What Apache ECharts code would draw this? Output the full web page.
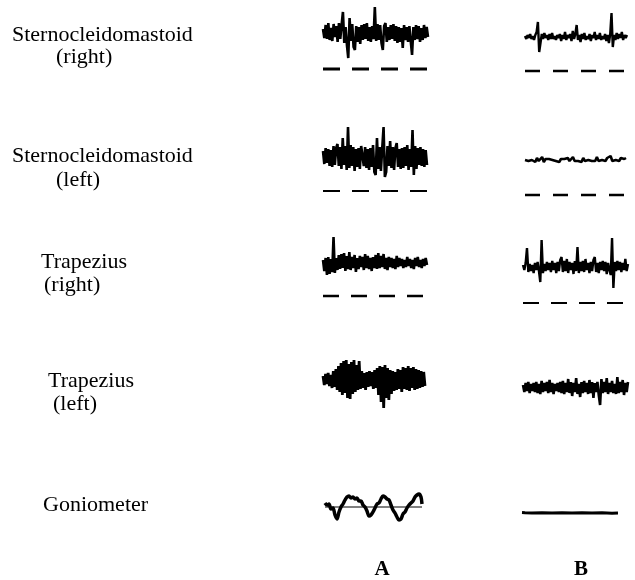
<!DOCTYPE html>
<html>
<head>
<meta charset="utf-8">
<script src="https://cdn.jsdelivr.net/npm/echarts@6/dist/echarts.min.js"></script>
<style>
  html, body { margin: 0; padding: 0; background: #fff; }
  #chart { width: 635px; height: 580px; }
</style>
</head>
<body>
<div id="chart"></div>
<script>
// Surface EMG samples (arbitrary amplitude units, one value per sample step)
const sternoRightA = [
  4,-5,8,-6,10,-7,5,-8,9,-4, 7,-9,10,-6,8,21,-10,6,-12,-25,
  15,-8,9,-14,-17,7,-9,6,-11,8, -7,9,-6,10,-8,6,-9,7,-6,26,
  -8,9,-7,8,-10,-17,7,10,-9,6, -7,8,-6,9,-8,7,-10,6,-9,5,
  -15,8,-7,6,-9,7,-8,-22,6,-7, 8,-6,7,-9,5,-7,8,-5,6,-4
];
const sternoRightB = [
  1,-2,2,-1,3,-2,1,-3,2,5, 15,-15,-6,3,-2,4,-1,2,-3,3,
  -2,4,-2,1,-3,2,-1,3,-4,2, -2,5,-3,2,-1,3,-4,6,-2,3,
  12,-3,2,-5,3,-2,4,-3,1,-2, 3,-4,2,-1,5,-3,2,-2,4,-3,
  1,-2,3,-4,2,-6,3,24,-10,2, -3,4,-2,3,-1,5,-3,2,-1,2
];
const sternoLeftA = [
  6,-7,9,-6,8,-9,7,-10,11,-8, 9,13,-9,10,-12,19,-8,11,-13,30,
  -11,12,-9,10,-14,8,-10,9,-12,11, 13,-9,10,-11,8,-13,9,-10,12,-15,
  -18,19,-12,10,-14,9,30,-20,-15,11, -9,16,-11,10,-13,9,14,-10,8,-12,
  9,-11,10,-9,12,-13,8,-10,27,-18, 11,-12,9,-8,10,-9,8,-10,7,-8
];
const sternoLeftB = [
  0,1,-1,1,0,2,-2,2,-1,1, 3,-2,1,-1,1,-1,0,2,-1,1,
  -2,1,-1,1,0,2,-1,1,3,-1, 1,-1,1,-2,2,-1,1,0,2,-1,
  1,-1,3,-1,1,0,1,-1,2,1, 4,-1,1,0,1,-1,2,1,1,2
];
const trapRightA = [
  3,-8,5,-12,6,-11,4,-9,26,-10, 5,-7,8,-6,9,-5,10,-8,7,-6,
  11,-7,6,-5,8,-9,5,-6,7,-4, 6,-7,9,-5,7,-6,5,-8,6,-5,
  8,-6,10,-5,7,-4,9,-6,5,-7, 6,-4,5,-5,4,-6,7,-4,5,-3,
  4,-5,3,-4,6,-3,4,-5,3,-6, 5,-3,6,-4,3,-5,4,-3,5,-2
];
const trapRightB = [
  2,-3,4,19,-5,3,-4,2,-6,4, -3,5,-4,-15,27,-6,3,-4,5,-3,
  4,-5,6,-3,4,-6,5,-4,7,10, -5,6,-4,8,-6,5,-3,4,-7,6,
  -4,20,-6,5,-4,6,-5,8,-3,4, -6,5,-4,7,10,-5,4,-6,5,-3,
  6,-4,5,-7,4,-3,-8,29,-21,5, -4,6,-3,5,-5,4,-3,8,-4,3
];
const trapLeftA = [
  4,-5,6,-4,7,-6,5,-8,9,-7, 11,-10,14,-12,17,-15,19,-13,20,-18,
  16,-19,18,-14,20,-12,15,-10,19,-9, 9,-8,7,-10,8,-7,9,-6,8,-9,
  10,-8,12,-15,14,-22,13,-28,15,-18, 12,-20,10,-14,9,-11,8,-10,11,-9,
  10,-12,13,-9,12,-10,14,-11,12,-8, 13,-10,11,-9,10,-8,9,-7,8,-6
];
const trapLeftB = [
  3,-4,5,-3,6,-5,4,-3,5,-4, 6,-5,4,-6,7,-4,5,-3,6,-5,
  8,-4,5,-6,4,-3,5,-4,6,-5, 7,-6,5,-4,9,-5,6,-8,5,-4,
  10,-6,4,-9,6,-5,7,-4,5,-6, 8,-5,6,-10,5,-4,6,-7,-17,9,
  -5,6,-4,10,-6,5,-4,7,-5,4, -6,11,-5,6,-4,8,-7,5,-4,6
];
// Goniometer angle: [time, angle]
const goniometerA = [
  [0,4],[2,2],[4,3],[6,-2],[8,-1],[10,-8],[12,-12],[14,-5],[16,0],[18,3],
  [20,7],[22,10],[24,11],[26,9],[28,10],[30,8],[32,9],[34,6],[36,6],[38,2],
  [40,0],[42,-4],[44,-9],[46,-8],[48,-5],[50,-1],[52,3],[54,4],[56,8],[58,11],
  [60,10],[62,8],[64,7],[66,2],[68,-3],[70,-6],[72,-10],[74,-13],[76,-12],[78,-7],
  [80,-5],[82,-1],[84,2],[86,4],[88,6],[90,10],[92,12],[94,13],[96,10],[97,3]
];
const goniometerB = [
  [0,0.5],[3,0.3],[10,0],[20,0.2],[30,0],[40,0.2],[50,0],[60,0.3],[70,0],[80,0.2],[90,-0.3],[96,0]
];

const channelNames = ['Sternocleidomastoid', 'Sternocleidomastoid', 'Trapezius', 'Trapezius', 'Goniometer'];
const channelSides = ['(right)', '(left)', '(right)', '(left)', ''];
const conditionLabels = ['A', 'B'];

// Layout of each trace panel (pixel box, baseline row, optional dashed reference)
const panels = [
  { data: sternoRightA, left: 323, width: 105, base: 33,  lw: 2.6, dash: -36, pattern: [17, 12], dashW: 3 },
  { data: sternoRightB, left: 525, width: 102, base: 37,  lw: 2.4, dash: -34, pattern: [15, 13], dashW: 2.5 },
  { data: sternoLeftA,  left: 323, width: 104, base: 157, lw: 2.6, dash: -34, pattern: [17, 12], dashW: 2 },
  { data: sternoLeftB,  left: 525, width: 101, base: 160, lw: 2.6, dash: -35, pattern: [15, 13], dashW: 2.5 },
  { data: trapRightA,   left: 323, width: 104, base: 263, lw: 2.6, dash: -33, pattern: [16, 12], dashW: 2.5 },
  { data: trapRightB,   left: 523, width: 105, base: 267, lw: 2.4, dash: -36, pattern: [16, 12], dashW: 2 },
  { data: trapLeftA,    left: 323, width: 102, base: 380, lw: 2.8 },
  { data: trapLeftB,    left: 523, width: 105, base: 388, lw: 2.6 },
  { pairs: goniometerA, left: 325, width: 97,  base: 507, span: 97, ref: true, lw: 3.5, smooth: 0.3 },
  { pairs: goniometerB, left: 522, width: 96,  base: 513, span: 96, lw: 3 }
];

const Y_MAX = 32, Y_MIN = -40;
const grid = [], xAxis = [], yAxis = [], series = [];

panels.forEach((p, k) => {
  const pts = p.pairs ? p.pairs : p.data.map((v, i) => [i, v]);
  const xMax = p.pairs ? p.span : p.data.length - 1;
  grid.push({ left: p.left, width: p.width, top: p.base - Y_MAX, height: Y_MAX - Y_MIN, containLabel: false });
  xAxis.push({ type: 'value', gridIndex: k, min: 0, max: xMax, show: false });
  yAxis.push({ type: 'value', gridIndex: k, min: Y_MIN, max: Y_MAX, show: false });
  series.push({
    type: 'line', xAxisIndex: k, yAxisIndex: k, data: pts,
    showSymbol: false, symbol: 'none', smooth: p.smooth || false, clip: false,
    lineStyle: { color: '#000', width: p.lw }
  });
  if (p.dash !== undefined) {
    series.push({
      type: 'line', xAxisIndex: k, yAxisIndex: k,
      data: [[0, p.dash], [xMax, p.dash]],
      showSymbol: false, symbol: 'none',
      lineStyle: { color: '#000', width: p.dashW, type: p.pattern, cap: 'butt' }
    });
  }
  if (p.ref) {
    series.push({
      type: 'line', xAxisIndex: k, yAxisIndex: k,
      data: [[0, 0], [xMax, 0]],
      showSymbol: false, symbol: 'none',
      lineStyle: { color: '#000', width: 1 }
    });
  }
});

const FONT = '"Liberation Serif", "Times New Roman", serif';
const nameSpots = [[12, 35], [12, 156], [41, 262], [48, 381], [43, 505]];
const sideSpots = [[56, 57], [56, 180], [44, 285], [53, 404], [0, 0]];
const condSpots = [[382, 570], [581, 570]];

const graphic = [];
channelNames.forEach((t, i) => {
  graphic.push({ type: 'text', x: nameSpots[i][0], y: nameSpots[i][1],
    style: { text: t, font: '22px ' + FONT, fill: '#000',
      textAlign: 'left', align: 'left', textVerticalAlign: 'middle', verticalAlign: 'middle' } });
  if (channelSides[i]) {
    graphic.push({ type: 'text', x: sideSpots[i][0], y: sideSpots[i][1],
      style: { text: channelSides[i], font: '22px ' + FONT, fill: '#000',
        textAlign: 'left', align: 'left', textVerticalAlign: 'middle', verticalAlign: 'middle' } });
  }
});
conditionLabels.forEach((t, i) => {
  graphic.push({ type: 'text', x: condSpots[i][0], y: condSpots[i][1],
    style: { text: t, font: 'bold 21px ' + FONT, fill: '#000',
      textAlign: 'center', align: 'center', textVerticalAlign: 'middle', verticalAlign: 'middle' } });
});

const chart = echarts.init(document.getElementById('chart'), null, { renderer: 'canvas' });
chart.setOption({
  backgroundColor: '#fff',
  animation: false,
  grid, xAxis, yAxis, series, graphic
});
</script>
</body>
</html>
